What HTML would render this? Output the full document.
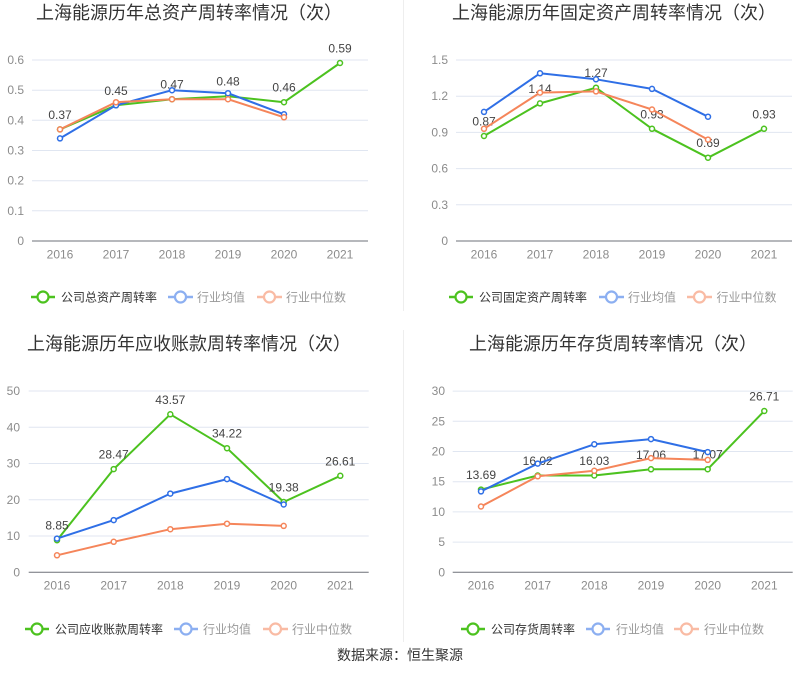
<!DOCTYPE html>
<html><head><meta charset="utf-8">
<style>
html,body{margin:0;padding:0;background:#fff;}
svg{display:block;}
text{font-family:"Liberation Sans","Noto Sans CJK SC",sans-serif;}
.t{font-size:18px;fill:#333;}
.yl{font-size:12px;fill:#8c8c8c;text-anchor:end;}
.xl{font-size:12px;fill:#8c8c8c;text-anchor:middle;}
.dl{font-size:12px;fill:#444;text-anchor:middle;}
.lg{font-size:12px;fill:#333;}
.lg2{font-size:12px;fill:#999;}
.g{stroke:#e0e6f1;stroke-width:1;}
.ax{stroke:#6e7079;stroke-width:1;}
.sg{fill:none;stroke:#4cc21f;stroke-width:2;stroke-linejoin:round;}
.sb{fill:none;stroke:#2f6fe6;stroke-width:2;stroke-linejoin:round;}
.so{fill:none;stroke:#f5855a;stroke-width:2;stroke-linejoin:round;}
.pg{fill:#fff;stroke:#4cc21f;stroke-width:1.5;}
.pb{fill:#fff;stroke:#2f6fe6;stroke-width:1.5;}
.po{fill:#fff;stroke:#f5855a;stroke-width:1.5;}
</style></head>
<body>
<svg width="800" height="689" viewBox="0 0 800 689" xmlns="http://www.w3.org/2000/svg">
<rect width="800" height="689" fill="#fff"/>
<line x1="403.5" y1="0" x2="403.5" y2="311" stroke="#eeeeee" stroke-width="1"/>
<line x1="403.5" y1="330" x2="403.5" y2="642" stroke="#eeeeee" stroke-width="1"/>

<!-- ============ Chart 1 ============ -->
<text class="t" x="36" y="19">上海能源历年总资产周转率情况（次）</text>
<g>
<line class="g" x1="32" y1="60" x2="368" y2="60"/>
<line class="g" x1="32" y1="90.2" x2="368" y2="90.2"/>
<line class="g" x1="32" y1="120.3" x2="368" y2="120.3"/>
<line class="g" x1="32" y1="150.5" x2="368" y2="150.5"/>
<line class="g" x1="32" y1="180.7" x2="368" y2="180.7"/>
<line class="g" x1="32" y1="210.8" x2="368" y2="210.8"/>
<line class="ax" x1="32" y1="241" x2="368" y2="241"/>
<text class="yl" x="24" y="64">0.6</text>
<text class="yl" x="24" y="94.2">0.5</text>
<text class="yl" x="24" y="124.3">0.4</text>
<text class="yl" x="24" y="154.5">0.3</text>
<text class="yl" x="24" y="184.7">0.2</text>
<text class="yl" x="24" y="214.8">0.1</text>
<text class="yl" x="24" y="245">0</text>
<text class="xl" x="60" y="258.5">2016</text>
<text class="xl" x="116" y="258.5">2017</text>
<text class="xl" x="172" y="258.5">2018</text>
<text class="xl" x="228" y="258.5">2019</text>
<text class="xl" x="284" y="258.5">2020</text>
<text class="xl" x="340" y="258.5">2021</text>
<polyline class="sg" points="60,129.4 116,105.3 172,99.2 228,96.2 284,102.2 340,63"/>
<circle class="pg" cx="60" cy="129.4" r="2.5"/><circle class="pg" cx="116" cy="105.3" r="2.5"/><circle class="pg" cx="172" cy="99.2" r="2.5"/><circle class="pg" cx="228" cy="96.2" r="2.5"/><circle class="pg" cx="284" cy="102.2" r="2.5"/><circle class="pg" cx="340" cy="63" r="2.5"/>
<text class="dl" x="60" y="118.9">0.37</text>
<text class="dl" x="116" y="94.8">0.45</text>
<text class="dl" x="172" y="88.7">0.47</text>
<text class="dl" x="228" y="85.7">0.48</text>
<text class="dl" x="284" y="91.7">0.46</text>
<text class="dl" x="340" y="52.5">0.59</text>
<polyline class="sb" points="60,138.4 116,105.3 172,90.2 228,93.2 284,114.3"/>
<circle class="pb" cx="60" cy="138.4" r="2.5"/><circle class="pb" cx="116" cy="105.3" r="2.5"/><circle class="pb" cx="172" cy="90.2" r="2.5"/><circle class="pb" cx="228" cy="93.2" r="2.5"/><circle class="pb" cx="284" cy="114.3" r="2.5"/>
<polyline class="so" points="60,129.4 116,102.2 172,99.2 228,99.2 284,117.3"/>
<circle class="po" cx="60" cy="129.4" r="2.5"/><circle class="po" cx="116" cy="102.2" r="2.5"/><circle class="po" cx="172" cy="99.2" r="2.5"/><circle class="po" cx="228" cy="99.2" r="2.5"/><circle class="po" cx="284" cy="117.3" r="2.5"/>
<!-- legend -->
<line x1="31" y1="297" x2="55" y2="297" stroke="#4cc21f" stroke-width="2.5"/>
<circle cx="43" cy="297" r="5.5" fill="#fff" stroke="#4cc21f" stroke-width="2.2"/>
<text class="lg" x="61" y="301.5">公司总资产周转率</text>
<g opacity="0.55">
<line x1="168" y1="297" x2="193" y2="297" stroke="#2f6fe6" stroke-width="2.5"/>
<circle cx="180.5" cy="297" r="5.5" fill="#fff" stroke="#2f6fe6" stroke-width="2.2"/>
</g>
<text class="lg2" x="197" y="301.5">行业均值</text>
<g opacity="0.55">
<line x1="257" y1="297" x2="282" y2="297" stroke="#f5855a" stroke-width="2.5"/>
<circle cx="269.5" cy="297" r="5.5" fill="#fff" stroke="#f5855a" stroke-width="2.2"/>
</g>
<text class="lg2" x="286" y="301.5">行业中位数</text>
</g>

<!-- ============ Chart 2 ============ -->
<text class="t" x="452" y="19">上海能源历年固定资产周转率情况（次）</text>
<g>
<line class="g" x1="456" y1="60" x2="792" y2="60"/>
<line class="g" x1="456" y1="96.2" x2="792" y2="96.2"/>
<line class="g" x1="456" y1="132.4" x2="792" y2="132.4"/>
<line class="g" x1="456" y1="168.6" x2="792" y2="168.6"/>
<line class="g" x1="456" y1="204.8" x2="792" y2="204.8"/>
<line class="ax" x1="456" y1="241" x2="792" y2="241"/>
<text class="yl" x="448" y="64">1.5</text>
<text class="yl" x="448" y="100.2">1.2</text>
<text class="yl" x="448" y="136.4">0.9</text>
<text class="yl" x="448" y="172.6">0.6</text>
<text class="yl" x="448" y="208.8">0.3</text>
<text class="yl" x="448" y="245">0</text>
<text class="xl" x="484" y="258.5">2016</text>
<text class="xl" x="540" y="258.5">2017</text>
<text class="xl" x="596" y="258.5">2018</text>
<text class="xl" x="652" y="258.5">2019</text>
<text class="xl" x="708" y="258.5">2020</text>
<text class="xl" x="764" y="258.5">2021</text>
<polyline class="sg" points="484,136 540,103.4 596,87.7 652,128.8 708,157.7 764,128.8"/>
<circle class="pg" cx="484" cy="136" r="2.5"/><circle class="pg" cx="540" cy="103.4" r="2.5"/><circle class="pg" cx="596" cy="87.7" r="2.5"/><circle class="pg" cx="652" cy="128.8" r="2.5"/><circle class="pg" cx="708" cy="157.7" r="2.5"/><circle class="pg" cx="764" cy="128.8" r="2.5"/>
<text class="dl" x="484" y="125.5">0.87</text>
<text class="dl" x="540" y="92.9">1.14</text>
<text class="dl" x="596" y="77.2">1.27</text>
<text class="dl" x="652" y="118.3">0.93</text>
<text class="dl" x="708" y="147.2">0.69</text>
<text class="dl" x="764" y="118.3">0.93</text>
<polyline class="sb" points="484,111.9 540,73.3 596,79.3 652,88.9 708,116.7"/>
<circle class="pb" cx="484" cy="111.9" r="2.5"/><circle class="pb" cx="540" cy="73.3" r="2.5"/><circle class="pb" cx="596" cy="79.3" r="2.5"/><circle class="pb" cx="652" cy="88.9" r="2.5"/><circle class="pb" cx="708" cy="116.7" r="2.5"/>
<polyline class="so" points="484,128.8 540,92.6 596,91.4 652,109.5 708,139.6"/>
<circle class="po" cx="484" cy="128.8" r="2.5"/><circle class="po" cx="540" cy="92.6" r="2.5"/><circle class="po" cx="596" cy="91.4" r="2.5"/><circle class="po" cx="652" cy="109.5" r="2.5"/><circle class="po" cx="708" cy="139.6" r="2.5"/>
<line x1="449" y1="297" x2="473" y2="297" stroke="#4cc21f" stroke-width="2.5"/>
<circle cx="461" cy="297" r="5.5" fill="#fff" stroke="#4cc21f" stroke-width="2.2"/>
<text class="lg" x="479" y="301.5">公司固定资产周转率</text>
<g opacity="0.55">
<line x1="599" y1="297" x2="624" y2="297" stroke="#2f6fe6" stroke-width="2.5"/>
<circle cx="611.5" cy="297" r="5.5" fill="#fff" stroke="#2f6fe6" stroke-width="2.2"/>
</g>
<text class="lg2" x="628" y="301.5">行业均值</text>
<g opacity="0.55">
<line x1="687" y1="297" x2="712" y2="297" stroke="#f5855a" stroke-width="2.5"/>
<circle cx="699.5" cy="297" r="5.5" fill="#fff" stroke="#f5855a" stroke-width="2.2"/>
</g>
<text class="lg2" x="716.5" y="301.5">行业中位数</text>
</g>

<!-- ============ Chart 3 ============ -->
<text class="t" x="27" y="350">上海能源历年应收账款周转率情况（次）</text>
<g>
<line class="g" x1="28.7" y1="391" x2="368.7" y2="391"/>
<line class="g" x1="28.7" y1="427.3" x2="368.7" y2="427.3"/>
<line class="g" x1="28.7" y1="463.5" x2="368.7" y2="463.5"/>
<line class="g" x1="28.7" y1="499.8" x2="368.7" y2="499.8"/>
<line class="g" x1="28.7" y1="536" x2="368.7" y2="536"/>
<line class="ax" x1="28.7" y1="572.3" x2="368.7" y2="572.3"/>
<text class="yl" x="20" y="395">50</text>
<text class="yl" x="20" y="431.3">40</text>
<text class="yl" x="20" y="467.5">30</text>
<text class="yl" x="20" y="503.8">20</text>
<text class="yl" x="20" y="540">10</text>
<text class="yl" x="20" y="576.3">0</text>
<text class="xl" x="57" y="589.5">2016</text>
<text class="xl" x="113.7" y="589.5">2017</text>
<text class="xl" x="170.3" y="589.5">2018</text>
<text class="xl" x="227" y="589.5">2019</text>
<text class="xl" x="283.7" y="589.5">2020</text>
<text class="xl" x="340.3" y="589.5">2021</text>
<polyline class="sg" points="57,540.2 113.7,469.1 170.3,414.3 227,448.2 283.7,502 340.3,475.8"/>
<circle class="pg" cx="57" cy="540.2" r="2.5"/><circle class="pg" cx="113.7" cy="469.1" r="2.5"/><circle class="pg" cx="170.3" cy="414.3" r="2.5"/><circle class="pg" cx="227" cy="448.2" r="2.5"/><circle class="pg" cx="283.7" cy="502" r="2.5"/><circle class="pg" cx="340.3" cy="475.8" r="2.5"/>
<text class="dl" x="57" y="529.7">8.85</text>
<text class="dl" x="113.7" y="458.6">28.47</text>
<text class="dl" x="170.3" y="403.8">43.57</text>
<text class="dl" x="227" y="437.7">34.22</text>
<text class="dl" x="283.7" y="491.5">19.38</text>
<text class="dl" x="340.3" y="465.3">26.61</text>
<polyline class="sb" points="57,538.6 113.7,520.1 170.3,493.6 227,479.1 283.7,504.5"/>
<circle class="pb" cx="57" cy="538.6" r="2.5"/><circle class="pb" cx="113.7" cy="520.1" r="2.5"/><circle class="pb" cx="170.3" cy="493.6" r="2.5"/><circle class="pb" cx="227" cy="479.1" r="2.5"/><circle class="pb" cx="283.7" cy="504.5" r="2.5"/>
<polyline class="so" points="57,555.3 113.7,541.8 170.3,529.2 227,523.7 283.7,525.9"/>
<circle class="po" cx="57" cy="555.3" r="2.5"/><circle class="po" cx="113.7" cy="541.8" r="2.5"/><circle class="po" cx="170.3" cy="529.2" r="2.5"/><circle class="po" cx="227" cy="523.7" r="2.5"/><circle class="po" cx="283.7" cy="525.9" r="2.5"/>
<line x1="25" y1="629" x2="49" y2="629" stroke="#4cc21f" stroke-width="2.5"/>
<circle cx="37" cy="629" r="5.5" fill="#fff" stroke="#4cc21f" stroke-width="2.2"/>
<text class="lg" x="55" y="633.5">公司应收账款周转率</text>
<g opacity="0.55">
<line x1="174" y1="629" x2="198" y2="629" stroke="#2f6fe6" stroke-width="2.5"/>
<circle cx="186" cy="629" r="5.5" fill="#fff" stroke="#2f6fe6" stroke-width="2.2"/>
</g>
<text class="lg2" x="203" y="633.5">行业均值</text>
<g opacity="0.55">
<line x1="263" y1="629" x2="288" y2="629" stroke="#f5855a" stroke-width="2.5"/>
<circle cx="275.5" cy="629" r="5.5" fill="#fff" stroke="#f5855a" stroke-width="2.2"/>
</g>
<text class="lg2" x="292" y="633.5">行业中位数</text>
</g>

<!-- ============ Chart 4 ============ -->
<text class="t" x="469" y="350">上海能源历年存货周转率情况（次）</text>
<g>
<line class="g" x1="452.7" y1="391.1" x2="792.7" y2="391.1"/>
<line class="g" x1="452.7" y1="421.3" x2="792.7" y2="421.3"/>
<line class="g" x1="452.7" y1="451.5" x2="792.7" y2="451.5"/>
<line class="g" x1="452.7" y1="481.7" x2="792.7" y2="481.7"/>
<line class="g" x1="452.7" y1="511.9" x2="792.7" y2="511.9"/>
<line class="g" x1="452.7" y1="542.1" x2="792.7" y2="542.1"/>
<line class="ax" x1="452.7" y1="572.3" x2="792.7" y2="572.3"/>
<text class="yl" x="445" y="395.1">30</text>
<text class="yl" x="445" y="425.3">25</text>
<text class="yl" x="445" y="455.5">20</text>
<text class="yl" x="445" y="485.7">15</text>
<text class="yl" x="445" y="515.9">10</text>
<text class="yl" x="445" y="546.1">5</text>
<text class="yl" x="445" y="576.3">0</text>
<text class="xl" x="481" y="589.5">2016</text>
<text class="xl" x="537.7" y="589.5">2017</text>
<text class="xl" x="594.3" y="589.5">2018</text>
<text class="xl" x="651" y="589.5">2019</text>
<text class="xl" x="707.7" y="589.5">2020</text>
<text class="xl" x="764.3" y="589.5">2021</text>
<polyline class="sg" points="481,489.6 537.7,475.5 594.3,475.5 651,469.3 707.7,469.2 764.3,411"/>
<circle class="pg" cx="481" cy="489.6" r="2.5"/><circle class="pg" cx="537.7" cy="475.5" r="2.5"/><circle class="pg" cx="594.3" cy="475.5" r="2.5"/><circle class="pg" cx="651" cy="469.3" r="2.5"/><circle class="pg" cx="707.7" cy="469.2" r="2.5"/><circle class="pg" cx="764.3" cy="411" r="2.5"/>
<text class="dl" x="481" y="479.1">13.69</text>
<text class="dl" x="537.7" y="465">16.02</text>
<text class="dl" x="594.3" y="465">16.03</text>
<text class="dl" x="651" y="458.8">17.06</text>
<text class="dl" x="707.7" y="458.7">17.07</text>
<text class="dl" x="764.3" y="400.5">26.71</text>
<polyline class="sb" points="481,491.4 537.7,463.6 594.3,444.3 651,439.1 707.7,452.1"/>
<circle class="pb" cx="481" cy="491.4" r="2.5"/><circle class="pb" cx="537.7" cy="463.6" r="2.5"/><circle class="pb" cx="594.3" cy="444.3" r="2.5"/><circle class="pb" cx="651" cy="439.1" r="2.5"/><circle class="pb" cx="707.7" cy="452.1" r="2.5"/>
<polyline class="so" points="481,506.5 537.7,476.3 594.3,470.8 651,458.1 707.7,459.9"/>
<circle class="po" cx="481" cy="506.5" r="2.5"/><circle class="po" cx="537.7" cy="476.3" r="2.5"/><circle class="po" cx="594.3" cy="470.8" r="2.5"/><circle class="po" cx="651" cy="458.1" r="2.5"/><circle class="po" cx="707.7" cy="459.9" r="2.5"/>
<line x1="461" y1="629" x2="485" y2="629" stroke="#4cc21f" stroke-width="2.5"/>
<circle cx="473" cy="629" r="5.5" fill="#fff" stroke="#4cc21f" stroke-width="2.2"/>
<text class="lg" x="491" y="633.5">公司存货周转率</text>
<g opacity="0.55">
<line x1="586" y1="629" x2="610" y2="629" stroke="#2f6fe6" stroke-width="2.5"/>
<circle cx="598" cy="629" r="5.5" fill="#fff" stroke="#2f6fe6" stroke-width="2.2"/>
</g>
<text class="lg2" x="616" y="633.5">行业均值</text>
<g opacity="0.55">
<line x1="674" y1="629" x2="699" y2="629" stroke="#f5855a" stroke-width="2.5"/>
<circle cx="686.5" cy="629" r="5.5" fill="#fff" stroke="#f5855a" stroke-width="2.2"/>
</g>
<text class="lg2" x="704" y="633.5">行业中位数</text>
</g>

<text x="337" y="660" style="font-size:14px;fill:#333;">数据来源：恒生聚源</text>
</svg>
</body></html>
